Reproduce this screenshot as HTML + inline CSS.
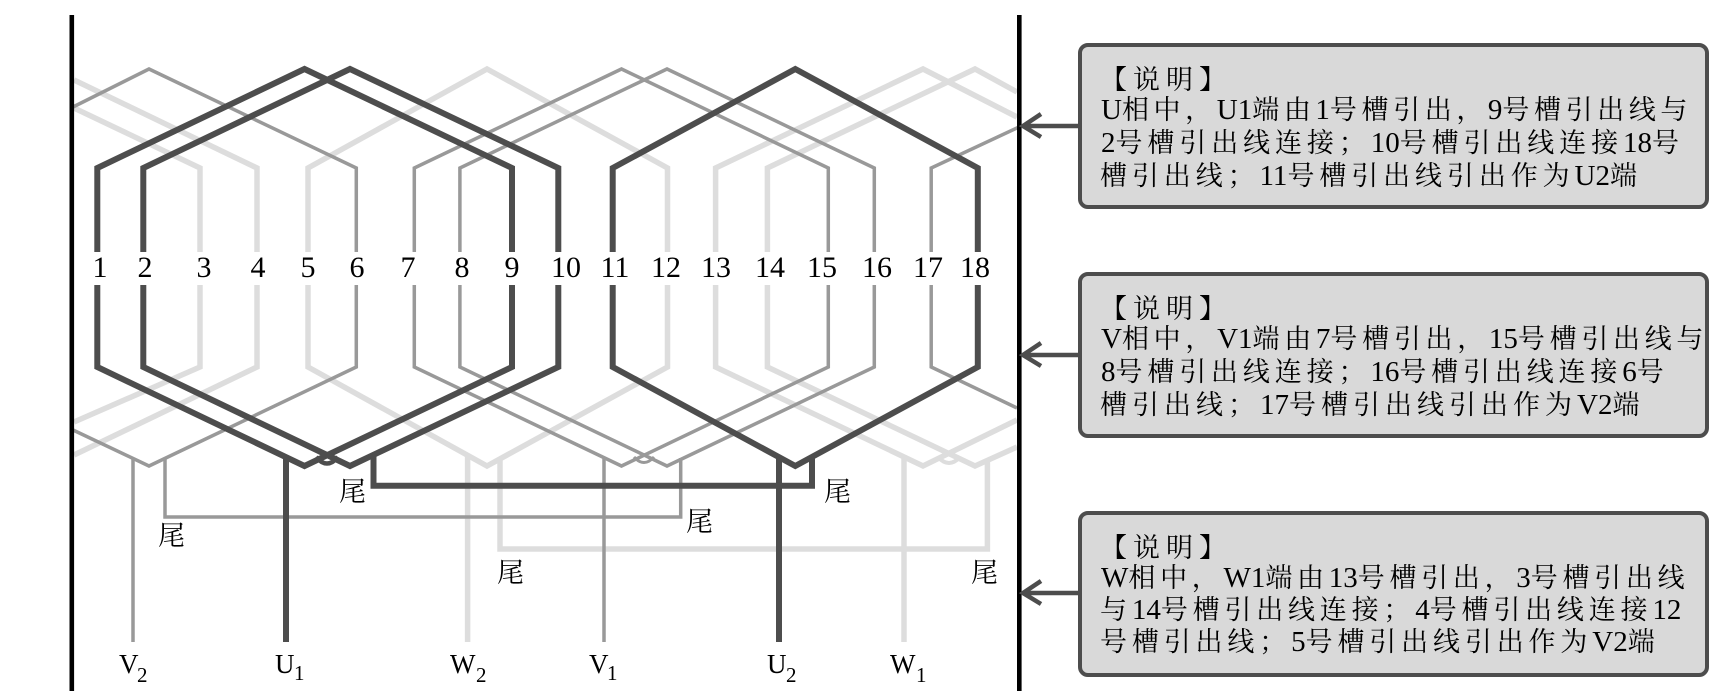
<!DOCTYPE html>
<html lang="zh"><head><meta charset="utf-8"><style>
html,body{margin:0;padding:0;background:#fff;width:1728px;height:691px;overflow:hidden}
svg{display:block}
text{font-family:"Liberation Serif","Noto Serif CJK SC",serif;fill:#000}
.l{fill:none;stroke:#ddd;stroke-width:5.5;stroke-linejoin:miter}
.m{fill:none;stroke:#999;stroke-width:3.5;stroke-linejoin:miter}
.d{fill:none;stroke:#4d4d4d;stroke-width:6;stroke-linejoin:miter}
.n{font-size:30px;text-anchor:middle}
.w{font-size:27px}
.t{font-size:27px}
.s{font-size:21px}
.b{font-size:27px}
.b tspan{font-size:29px;letter-spacing:0}
</style></head><body>
<svg width="1728" height="691" viewBox="0 0 1728 691" xmlns="http://www.w3.org/2000/svg">
<!-- light W coils -->
<g class="l">
<path d="M200 252V168L74 108M200 285V367L74 422"/>
<path d="M257 252V168L74 80M257 285V367L74 455"/>
<path d="M308 252V168L487 69L667.5 168V252M308 285V367L487 466L667.5 367V285"/>
<path d="M715.6 252V168L923 69L1017 117M715.6 285V367L923 466L1017 420"/>
<path d="M767.4 252V168L975 69L1017 92M767.4 285V367L975 466L1017 447"/>
<path d="M467.6 455V642M904 458V642"/>
<path d="M500 458V549H987.4V460"/>
<path d="M938 457Q949 469 960 457" stroke-width="4"/>
</g>
<!-- mid V coils -->
<g class="m">
<path d="M356.3 252V168L149 69L73 107M356.3 285V367L149 466L73 430"/>
<path d="M414.3 252V168L621.5 69L828.3 168V252M414.3 285V367L621.5 466L828.3 367V285"/>
<path d="M459.9 252V168L667 69L874.3 168V252M459.9 285V367L667 466L874.3 367V285"/>
<path d="M931.2 252V168L1019 127M931.2 285V367L1017 408"/>
<path d="M133 458V642M604 458V642"/>
<path d="M165 458V517H680.7V458"/>
<path d="M634 457Q644 468 654 457" stroke-width="3"/>
</g>
<!-- dark U coils -->
<g class="d">
<path d="M97.3 252V168L304.5 69L512 168V252M97.3 285V367L304.5 466L512 367V285"/>
<path d="M143.3 252V168L350 69L558.3 168V252M143.3 285V367L350 466L558.3 367V285"/>
<path d="M612.7 252V168L795.3 69L977.8 168V252M612.7 285V367L795.3 466L977.8 367V285"/>
<path d="M286 458V642M779 458V642"/>
<path d="M373.5 455V485.7H812V458"/>
<path d="M316 457Q327 470 338 457" stroke-width="4.5"/>
</g>
<!-- frame lines -->
<rect x="69.5" y="15" width="4.6" height="676" fill="#000"/>
<rect x="1017" y="15" width="4.6" height="676" fill="#000"/>
<!-- slot numbers -->
<g class="n">
<text x="100" y="277">1</text><text x="145" y="277">2</text><text x="204" y="277">3</text><text x="258" y="277">4</text><text x="308" y="277">5</text><text x="357" y="277">6</text><text x="408" y="277">7</text><text x="462" y="277">8</text><text x="512" y="277">9</text><text x="566" y="277">10</text><text x="615" y="277">11</text><text x="666" y="277">12</text><text x="716" y="277">13</text><text x="770" y="277">14</text><text x="822" y="277">15</text><text x="877" y="277">16</text><text x="928" y="277">17</text><text x="975" y="277">18</text>
</g>
<!-- terminal labels -->
<text class="t" x="119" y="673">V</text><text class="s" x="137" y="682">2</text>
<text class="t" x="275" y="673">U</text><text class="s" x="294" y="680">1</text>
<text class="t" x="450" y="673">W</text><text class="s" x="476" y="682">2</text>
<text class="t" x="589" y="673">V</text><text class="s" x="607" y="680">1</text>
<text class="t" x="767" y="673">U</text><text class="s" x="786" y="682">2</text>
<text class="t" x="890" y="673">W</text><text class="s" x="916" y="682">1</text>
<!-- tail labels -->
<text class="w" x="339" y="501">尾</text>
<text class="w" x="158" y="545">尾</text>
<text class="w" x="497" y="582">尾</text>
<text class="w" x="686" y="531">尾</text>
<text class="w" x="824" y="501">尾</text>
<text class="w" x="971" y="582">尾</text>
<!-- box 1 -->
<rect x="1080" y="45" width="627" height="162" rx="8" fill="#d9d9d9" stroke="#4d4d4d" stroke-width="4"/>
<text class="b" x="1100" y="89" letter-spacing="6">【说明】</text>
<text class="b" x="1101" y="119" letter-spacing="4.6"><tspan>U</tspan>相中，<tspan>U1</tspan>端由<tspan>1</tspan>号槽引出，<tspan>9</tspan>号槽引出线与</text>
<text class="b" x="1101" y="152" letter-spacing="4.9"><tspan>2</tspan>号槽引出线连接；<tspan>10</tspan>号槽引出线连接<tspan>18</tspan>号</text>
<text class="b" x="1100" y="185" letter-spacing="4.9">槽引出线；<tspan>11</tspan>号槽引出线引出作为<tspan>U2</tspan>端</text>
<path d="M1080 126H1023M1041 114L1023 126L1041 137" fill="none" stroke="#4d4d4d" stroke-width="4.5"/>
<!-- box 2 -->
<rect x="1080" y="274" width="627" height="162" rx="8" fill="#d9d9d9" stroke="#4d4d4d" stroke-width="4"/>
<text class="b" x="1100" y="318" letter-spacing="6">【说明】</text>
<text class="b" x="1101" y="348" letter-spacing="4.7"><tspan>V</tspan>相中，<tspan>V1</tspan>端由<tspan>7</tspan>号槽引出，<tspan>15</tspan>号槽引出线与</text>
<text class="b" x="1101" y="381" letter-spacing="4.85"><tspan>8</tspan>号槽引出线连接；<tspan>16</tspan>号槽引出线连接<tspan>6</tspan>号</text>
<text class="b" x="1100" y="414" letter-spacing="5">槽引出线；<tspan>17</tspan>号槽引出线引出作为<tspan>V2</tspan>端</text>
<path d="M1080 355H1023M1041 343L1023 355L1041 366" fill="none" stroke="#4d4d4d" stroke-width="4.5"/>
<!-- box 3 -->
<rect x="1080" y="513" width="627" height="162" rx="8" fill="#d9d9d9" stroke="#4d4d4d" stroke-width="4"/>
<text class="b" x="1100" y="557" letter-spacing="6">【说明】</text>
<text class="b" x="1101" y="587" letter-spacing="4.7"><tspan>W</tspan>相中，<tspan>W1</tspan>端由<tspan>13</tspan>号槽引出，<tspan>3</tspan>号槽引出线</text>
<text class="b" x="1100" y="619" letter-spacing="4.8">与<tspan>14</tspan>号槽引出线连接；<tspan>4</tspan>号槽引出线连接<tspan>12</tspan></text>
<text class="b" x="1100" y="651" letter-spacing="4.85">号槽引出线；<tspan>5</tspan>号槽引出线引出作为<tspan>V2</tspan>端</text>
<path d="M1080 593H1023M1041 581L1023 593L1041 604" fill="none" stroke="#4d4d4d" stroke-width="4.5"/>
</svg>
</body></html>
